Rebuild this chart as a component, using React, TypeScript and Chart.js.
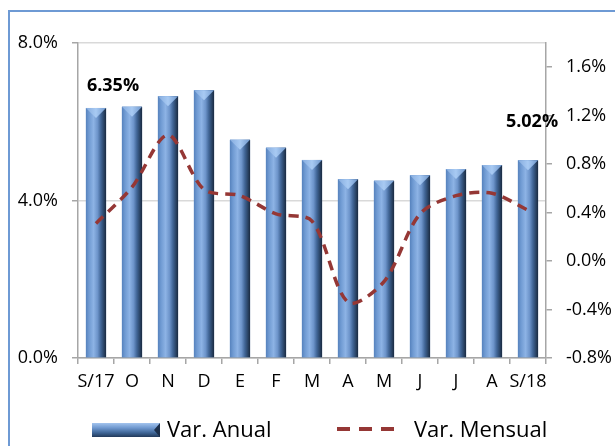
import React, { useEffect, useRef } from 'react';
import { Chart, registerables } from 'chart.js';

Chart.register(...registerables);

const categories = ['S/17', 'O', 'N', 'D', 'E', 'F', 'M', 'A', 'M', 'J', 'J', 'A', 'S/18'];
const varAnual = [6.35, 6.38, 6.65, 6.8, 5.54, 5.34, 5.03, 4.54, 4.5, 4.64, 4.8, 4.9, 5.02];
const varMensual = [0.31, 0.61, 1.04, 0.59, 0.54, 0.39, 0.33, -0.34, -0.17, 0.39, 0.54, 0.56, 0.42];
const leftTicks = [0, 4, 8];
const rightTicks = [-0.8, -0.4, 0, 0.4, 0.8, 1.2, 1.6];
const labelledBars = [
  { index: 0, text: '6.35%' },
  { index: 12, text: '5.02%' },
];
const legendLabels = ['Var. Anual', 'Var. Mensual'];

const FONT = "'Open Sans', sans-serif";
const AXIS = '#a6a6a6';
const LINE = '#953735';

const decorPlugin = {
  id: 'decor',
  afterDatasetDraw(chart: any, args: any) {
    if (args.index !== 1) return;
    const c = chart.ctx;
    const meta = chart.getDatasetMeta(1);
    c.save();
    meta.data.forEach((bar: any) => {
      const { x, y, width, base } = bar.getProps(['x', 'y', 'width', 'base'], true);
      if (![x, y, width, base].every((v) => Number.isFinite(v))) return;
      const l = x - width / 2;
      const r = x + width / 2;
      // body
      const gb = c.createLinearGradient(l, 0, r, 0);
      gb.addColorStop(0, '#5682bd');
      gb.addColorStop(0.15, '#6f9ad2');
      gb.addColorStop(0.38, '#8db3e5');
      gb.addColorStop(0.58, '#6d94ca');
      gb.addColorStop(0.74, '#416697');
      gb.addColorStop(0.88, '#2b4669');
      gb.addColorStop(1, '#1a2a40');
      c.fillStyle = gb;
      c.fillRect(l, y, width, base - y);
      // cap
      const g = c.createLinearGradient(l, 0, r, 0);
      g.addColorStop(0, '#86acde');
      g.addColorStop(0.5, '#a8caf3');
      g.addColorStop(1, '#6f97cc');
      c.fillStyle = g;
      c.beginPath();
      c.moveTo(l, y);
      c.lineTo(r, y);
      c.lineTo(x, y + 10);
      c.closePath();
      c.fill();
    });
    c.restore();
  },
  afterDraw(chart: any) {
    const c = chart.ctx;
    const meta = chart.getDatasetMeta(1);
    c.save();
    // data labels
    c.fillStyle = '#000';
    c.font = `bold 18px ${FONT}`;
    c.textAlign = 'center';
    c.textBaseline = 'alphabetic';
    labelledBars.forEach((lb, k) => {
      const bar = meta.data[lb.index];
      const { x, y } = bar.getProps(['x', 'y'], true);
      if (k === 0) c.fillText(lb.text, x + 17, y - 17);
      else c.fillText(lb.text, x + 4, y - 33);
    });
    // legend
    const sx = 92, sy = 423, sw = 68, sh = 14;
    const g = c.createLinearGradient(0, sy, 0, sy + sh);
    g.addColorStop(0, '#a3c4ee');
    g.addColorStop(0.35, '#6f98cf');
    g.addColorStop(0.7, '#3e6596');
    g.addColorStop(1, '#22395a');
    c.fillStyle = g;
    c.fillRect(sx, sy, sw, sh);
    c.fillStyle = '#1c2f4a';
    c.beginPath();
    c.moveTo(sx + sw, sy);
    c.lineTo(sx + sw, sy + sh);
    c.lineTo(sx + sw - 6, sy + sh / 2);
    c.closePath();
    c.fill();
    c.fillStyle = '#000';
    c.font = `22px ${FONT}`;
    c.textAlign = 'left';
    c.fillText(legendLabels[0], 167, 437);
    c.strokeStyle = LINE;
    c.lineWidth = 4;
    c.setLineDash([13, 9]);
    c.beginPath();
    c.moveTo(337, 429);
    c.lineTo(395, 429);
    c.stroke();
    c.setLineDash([]);
    c.fillText(legendLabels[1], 414, 437);
    c.restore();
  },
};

export default function App() {
  const ref = useRef<HTMLCanvasElement | null>(null);

  useEffect(() => {
    let chart: Chart | null = null;
    let cancelled = false;
    const make = () => {
      if (cancelled || !ref.current) return;
      Chart.defaults.font.family = FONT;
      chart = new Chart(ref.current, {
        type: 'bar',
        data: {
          labels: categories,
          datasets: [
            {
              type: 'line',
              label: legendLabels[1],
              data: varMensual,
              yAxisID: 'y1',
              borderColor: LINE,
              borderWidth: 3.5,
              borderDash: [10, 7],
              pointRadius: 0,
              tension: 0.3,
              fill: false,
              order: 0,
            } as any,
            {
              type: 'bar',
              label: legendLabels[0],
              data: varAnual,
              yAxisID: 'y',
              order: 1,
              barPercentage: 0.56,
              categoryPercentage: 1,
              backgroundColor: '#4f81bd',
              borderWidth: 0,
            } as any,
          ],
        },
        options: {
          animation: false,
          responsive: false,
          layout: { padding: { top: 43, left: 0, right: 0, bottom: 0 } },
          plugins: {
            legend: { display: false },
            tooltip: { enabled: false },
            title: { display: false },
          },
          scales: {
            x: {
              offset: true,
              grid: {
                display: true,
                offset: true,
                drawOnChartArea: false,
                drawTicks: true,
                tickLength: 6,
                tickColor: AXIS,
                lineWidth: 1.5,
              },
              border: { display: true, color: AXIS, width: 1.5 },
              ticks: {
                color: '#000',
                font: { family: FONT, size: 18 },
                padding: 7,
                maxRotation: 0,
                autoSkip: false,
              },
              afterFit: (s: any) => {
                s.height = 88;
              },
            },
            y: {
              position: 'left',
              min: 0,
              max: 8,
              afterBuildTicks: (s: any) => {
                s.ticks = leftTicks.map((v) => ({ value: v }));
              },
              grid: {
                color: '#d9d9d9',
                lineWidth: 1.5,
                tickColor: AXIS,
                tickLength: 6,
                drawTicks: true,
              },
              border: { display: true, color: AXIS, width: 1.5 },
              ticks: {
                color: '#000',
                font: { family: FONT, size: 18 },
                padding: 14,
                callback: (v: any) => Number(v).toFixed(1) + '%',
              },
              afterFit: (s: any) => {
                s.width = 78;
              },
            },
            y1: {
              position: 'right',
              min: -0.8,
              max: 1.8,
              afterBuildTicks: (s: any) => {
                s.ticks = rightTicks.map((v) => ({ value: v }));
              },
              grid: {
                drawOnChartArea: false,
                drawTicks: true,
                tickLength: 6,
                tickColor: AXIS,
                lineWidth: 1.5,
              },
              border: { display: true, color: AXIS, width: 1.5 },
              ticks: {
                color: '#000',
                font: { family: FONT, size: 18 },
                padding: 14,
                callback: (v: any) => Number(v).toFixed(1) + '%',
              },
              afterFit: (s: any) => {
                s.width = 69;
              },
            },
          },
        } as any,
        plugins: [decorPlugin],
      });
    };
    const fonts: any = (document as any).fonts;
    if (fonts && fonts.load) {
      Promise.all([
        fonts.load(`18px ${FONT}`),
        fonts.load(`bold 18px ${FONT}`),
        fonts.load(`22px ${FONT}`),
      ])
        .catch(() => {})
        .then(make);
    } else {
      make();
    }
    return () => {
      cancelled = true;
      if (chart) chart.destroy();
    };
  }, []);

  return (
    <div
      style={{
        position: 'fixed',
        left: 0,
        top: 0,
        width: 615,
        height: 446,
        overflow: 'hidden',
        background: '#fff',
      }}
    >
      <canvas
        ref={ref}
        width={615}
        height={446}
        style={{ position: 'absolute', left: 0, top: 0, display: 'block' }}
      />
      <div
        style={{
          position: 'absolute',
          left: 8,
          top: 10,
          width: 700,
          height: 600,
          borderLeft: '2px solid #6e9ad4',
          borderTop: '2px solid #6e9ad4',
          pointerEvents: 'none',
        }}
      />
    </div>
  );
}
